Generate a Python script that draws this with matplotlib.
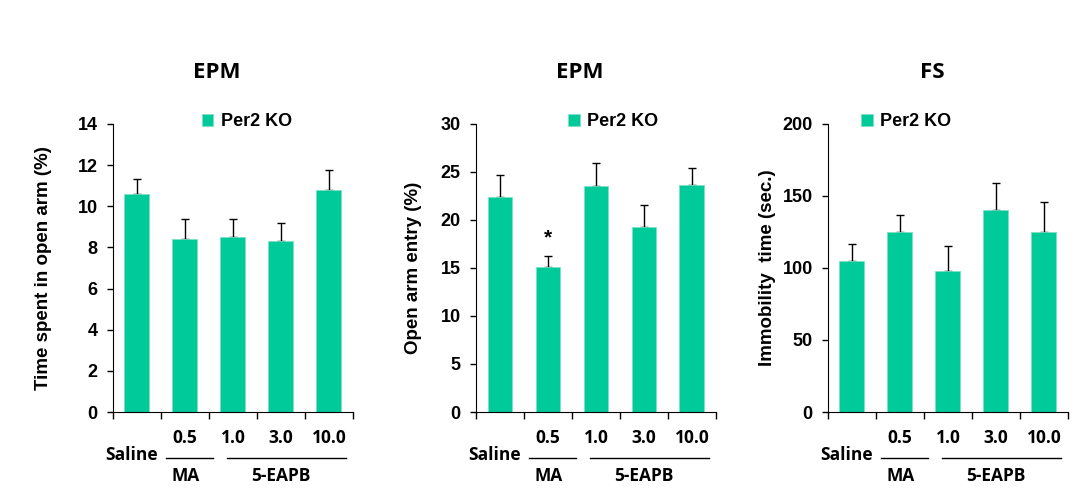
import numpy as np
import matplotlib
matplotlib.use("Agg")
import matplotlib.pyplot as plt
import matplotlib.transforms as mtransforms

# data
doses = ["", "0.5", "1.0", "3.0", "10.0"]
titles = ["EPM", "EPM", "FS"]
ylabels = ["Time spent in open arm (%)", "Open arm entry (%)", "Immobility  time (sec.)"]

time_open_arm = [10.6, 8.4, 8.5, 8.3, 10.8]
time_open_arm_err = [0.75, 1.0, 0.9, 0.9, 0.95]

open_arm_entry = [22.4, 15.1, 23.5, 19.3, 23.6]
open_arm_entry_err = [2.3, 1.2, 2.4, 2.3, 1.8]

immobility = [105, 125, 98, 140, 125]
immobility_err = [12, 12, 17, 19, 21]

values = [time_open_arm, open_arm_entry, immobility]
errors = [time_open_arm_err, open_arm_entry_err, immobility_err]
ylims = [14, 30, 200]
ysteps = [2, 5, 50]

bar_color = "#00C99A"
label_font = "Liberation Sans"
text_font = "Open Sans"

fig = plt.figure(figsize=(10.76, 4.92), dpi=100)

lefts = [0.105, 0.4424, 0.7695]
legend_x = [0.37, 0.385, 0.1375]
ylabel_x = [-0.254, -0.226, -0.217]
star_panel = 1

for i in range(3):
    ax = fig.add_axes([lefts[i], 0.1626, 0.223, 0.5854])
    x = np.arange(len(doses))
    bars = ax.bar(x, values[i], width=0.52, color=bar_color, edgecolor="#7fe0c6",
                  linewidth=0.6, label="Per2 KO", zorder=2)
    ax.errorbar(x, values[i], yerr=[np.zeros(len(doses)), errors[i]], fmt="none",
                ecolor="black", elinewidth=1.0, capsize=2.6, capthick=1.0, zorder=1)

    ax.set_xlim(-0.5, len(doses) - 0.5)
    ax.set_ylim(0, ylims[i])
    ax.set_yticks(np.arange(0, ylims[i] + 1, ysteps[i]))
    ax.set_xticks(np.arange(-0.5, len(doses), 1.0))
    ax.set_xticklabels([])
    ax.tick_params(axis="x", direction="out", length=5, width=1)
    ax.tick_params(axis="y", direction="out", length=4, width=1, labelsize=13, pad=7)
    for lbl in ax.get_yticklabels():
        lbl.set_fontfamily(label_font)
        lbl.set_fontweight("bold")
    ax.spines["top"].set_visible(False)
    ax.spines["right"].set_visible(False)

    ax.set_ylabel(ylabels[i], fontsize=13.5, fontweight="bold", fontfamily=label_font)
    ax.yaxis.set_label_coords(ylabel_x[i], 0.5)

    ax.text(0.433, 1.18, titles[i], transform=ax.transAxes, ha="center", va="center",
            fontsize=16, fontweight="bold", fontfamily=text_font)

    ax.legend(handles=[bars], loc="center left", bbox_to_anchor=(legend_x[i], 1.007),
              frameon=False, borderpad=0, borderaxespad=0, handlelength=0.65,
              handleheight=0.65, handletextpad=0.4,
              prop={"family": label_font, "weight": "bold", "size": 13})

    trans = mtransforms.blended_transform_factory(ax.transData, ax.transAxes)
    for xi, d in zip(x, doses):
        if d:
            ax.text(xi, -0.09, d, transform=trans, ha="center", va="center",
                    fontsize=12.5, fontweight="bold", fontfamily=text_font)
    ax.text(0.44, -0.148, "Saline", transform=trans, ha="right", va="center",
            fontsize=12.5, fontweight="bold", fontfamily=text_font)
    ax.plot([0.6, 1.58], [-0.16, -0.16], transform=trans, color="black", lw=1, clip_on=False)
    ax.plot([1.875, 4.35], [-0.16, -0.16], transform=trans, color="black", lw=1, clip_on=False)
    ax.text(1.02, -0.222, "MA", transform=trans, ha="center", va="center",
            fontsize=12.5, fontweight="bold", fontfamily=text_font)
    ax.text(3.0, -0.222, "5-EAPB", transform=trans, ha="center", va="center",
            fontsize=12.5, fontweight="bold", fontfamily=text_font)

    if i == star_panel:
        ax.text(1, values[i][1] + errors[i][1] + 0.8, "*", ha="center", va="bottom",
                fontsize=15, fontweight="bold", fontfamily=label_font)

fig.savefig("out.png", dpi=100)
